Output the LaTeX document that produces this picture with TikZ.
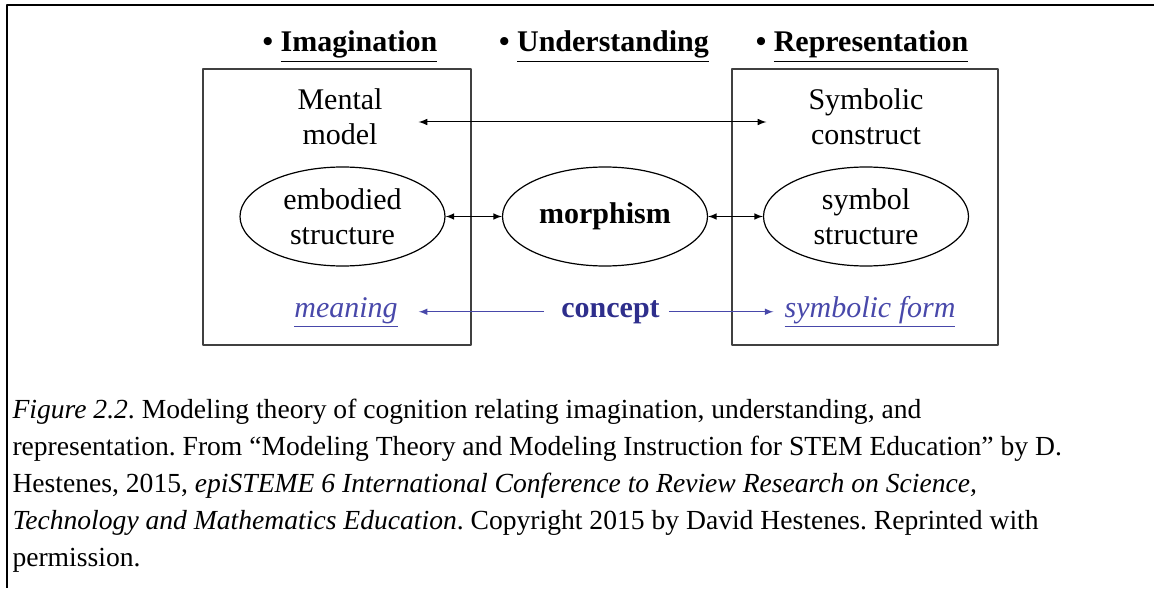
\documentclass[tikz,border=0pt]{standalone}
\usepackage{fontspec}
\setmainfont{Liberation Serif}
\usetikzlibrary{shapes.geometric}
\frenchspacing
\definecolor{cptblue}{RGB}{46,46,140}
\definecolor{lnkblue}{RGB}{72,72,170}
\tikzset{
  ovl/.style={draw,ellipse,line width=0.6pt,minimum width=102.5pt,minimum height=49.5pt,
    inner sep=0pt,align=center,font=\fontsize{15}{17.5}\selectfont},
  txt/.style={align=center,font=\fontsize{15}{17.5}\selectfont},
  ttl/.style={anchor=base,font=\fontsize{15}{17.5}\selectfont\bfseries},
  lbl/.style={anchor=base,font=\fontsize{15}{17.5}\selectfont},
  frm/.style={line width=0.8pt,black!75},
}
\begin{document}
\begin{tikzpicture}[x=0.5pt,y=-0.5pt,line join=round,line width=0.5pt,>=latex]
\useasboundingbox (0,0) rectangle (1154,588);
\draw[line width=1pt](1154,5)--(7,5)--(7,588);
\draw[frm](203,69) rectangle (471,345);
\draw[frm](732,69) rectangle (998,345);

    \node[ttl] (tImag) at (350,52) {\textbullet\ \underline{Imagination}};
    \node[ttl] (tUnd)  at (604,52) {\textbullet\ \underline{Understanding}};
    \node[ttl] (tRep)  at (862,52) {\textbullet\ \underline{Representation}};

    \node[txt] (mModel) at (340,117) {Mental\\model};
    \node[txt] (sCons)  at (866,117) {Symbolic\\construct};
    \draw[<->,shorten <=14.5pt,shorten >=17.5pt]([yshift=-2.5pt]mModel.east)--([yshift=-2.5pt]sCons.west);

    \node[ovl] (embS)  at (342.5,216.5) {embodied\\structure};
    \node[ovl] (morph) at (605,216.5) {\bfseries morphism};
    \node[ovl] (symS)  at (866,216.5) {symbol\\structure};
    \draw[<->](embS)--(morph);
    \draw[<->](morph)--(symS);

    \node[lbl,text=lnkblue,font=\fontsize{15}{17.5}\selectfont\itshape] (mean) at (346,317) {\underline{meaning}};
    \node[lbl,text=cptblue,font=\fontsize{15}{17.5}\selectfont\bfseries] (cpt) at (610.5,317) {concept};
    \node[lbl,text=lnkblue,font=\fontsize{15}{17.5}\selectfont\itshape] (symF) at (870,317) {\underline{symbolic form}};
    \draw[->,lnkblue,shorten <=5pt,shorten >=7pt](cpt.west)--(mean.east |- cpt.west);
    \draw[->,lnkblue,shorten <=1pt,shorten >=2pt](cpt.east)--(symF.west |- cpt.east);

    \node[anchor=north west,inner sep=0pt,align=left,font=\fontsize{13.8}{18.5}\selectfont] (cap) at (12,399)
      {\textit{Figure 2.2}. Modeling theory of cognition relating imagination, understanding, and\\
       representation. From “Modeling Theory and Modeling Instruction for STEM Education” by D.\\
       Hestenes, 2015, \textit{epiSTEME 6 International Conference to Review Research on Science,}\\
       \textit{Technology and Mathematics Education}. Copyright 2015 by David Hestenes. Reprinted with\\
       permission.};
  \end{tikzpicture}
\end{document}
